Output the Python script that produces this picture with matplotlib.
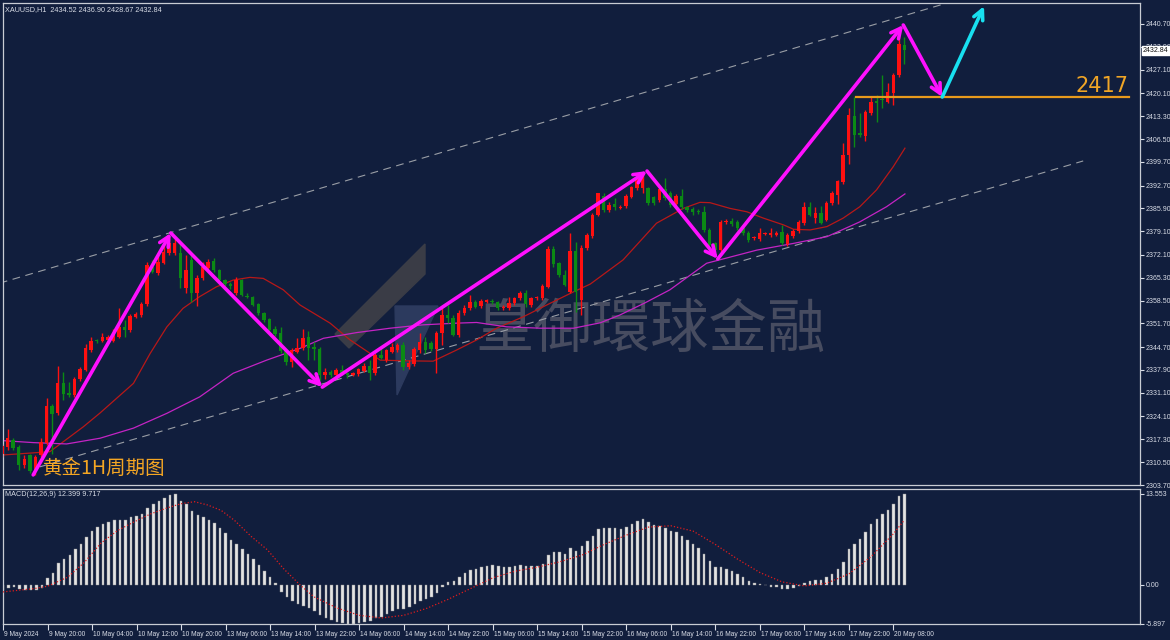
import matplotlib
matplotlib.use("Agg")
import matplotlib.pyplot as plt
import matplotlib.transforms as mtransforms
import numpy as np

plt.rcParams['font.family'] = ['Liberation Sans', 'DejaVu Sans', 'Noto Sans CJK SC']

# ---- candle data (XAUUSD H1), bar index 0..162 ----
opens = [2312.8, 2315.1, 2317.1, 2315.1, 2309.7, 2312.6, 2308.2, 2312.6, 2316.3, 2327.2,
         2325.0, 2334.0, 2331.0, 2330.3, 2335.1, 2337.9, 2343.8, 2346.6, 2346.5, 2346.8,
         2346.6, 2347.8, 2350.6, 2349.8, 2353.7, 2354.1, 2357.5, 2368.6, 2366.6, 2369.8,
         2372.5, 2372.5, 2372.5, 2362.2, 2370.6, 2360.9, 2365.1, 2368.1, 2370.4, 2367.6,
         2364.6, 2363.4, 2360.7, 2364.6, 2360.0, 2359.5, 2357.5, 2354.7, 2352.9, 2350.0,
         2348.8, 2343.6, 2340.4, 2343.3, 2344.3, 2347.8, 2344.8, 2344.1, 2336.4, 2337.4,
         2336.4, 2337.9, 2337.0, 2336.5, 2336.7, 2337.7, 2339.1, 2336.9, 2342.4, 2340.7,
         2343.3, 2343.8, 2345.3, 2338.7, 2339.7, 2343.8, 2346.3, 2346.0, 2344.0, 2348.8,
         2354.2, 2353.2, 2348.3, 2354.7, 2356.2, 2358.2, 2356.9, 2358.2, 2358.5, 2358.0,
         2356.2, 2356.2, 2357.7, 2359.2, 2360.9, 2357.2, 2359.2, 2359.2, 2362.6, 2373.7,
         2369.6, 2366.1, 2361.2, 2373.1, 2358.7, 2374.0, 2377.7, 2384.0, 2389.6, 2385.4,
         2387.2, 2386.1, 2386.6, 2389.4, 2391.9, 2391.9, 2391.9, 2389.2, 2388.4, 2391.6,
         2390.6, 2387.2, 2389.6, 2386.2, 2385.6, 2385.2, 2384.9, 2379.5, 2375.5, 2373.5,
         2381.8, 2382.2, 2381.9, 2380.0, 2378.7, 2377.0, 2376.7, 2378.3, 2378.0, 2378.1,
         2379.0, 2375.3, 2377.7, 2379.2, 2381.5, 2386.2, 2383.0, 2384.6, 2382.6, 2387.4,
         2389.9, 2393.6, 2401.8, 2413.5, 2408.3, 2407.4, 2414.2, 2417.8, 2418.3, 2417.6,
         2420.3, 2425.5, 2434.52]
highs = [2316.0, 2320.3, 2317.6, 2315.5, 2312.6, 2313.0, 2312.6, 2317.6, 2329.5, 2327.8,
         2339.1, 2337.4, 2334.4, 2335.9, 2338.8, 2345.5, 2347.8, 2347.0, 2348.8, 2348.3,
         2350.0, 2356.2, 2352.7, 2354.5, 2355.0, 2358.2, 2370.0, 2370.6, 2372.5, 2375.0,
         2377.5, 2376.7, 2376.0, 2372.0, 2372.0, 2366.0, 2370.0, 2371.0, 2371.3, 2368.0,
         2365.0, 2364.0, 2365.5, 2365.0, 2360.8, 2359.9, 2357.9, 2355.2, 2353.3, 2351.0,
         2350.8, 2344.0, 2344.5, 2347.3, 2350.0, 2349.6, 2346.3, 2344.6, 2338.4, 2337.9,
         2338.4, 2339.4, 2337.4, 2337.2, 2338.6, 2339.9, 2340.9, 2342.9, 2344.8, 2344.2,
         2345.8, 2345.8, 2346.3, 2340.9, 2344.6, 2348.8, 2347.8, 2346.5, 2349.5, 2356.2,
         2357.2, 2354.2, 2355.7, 2357.1, 2360.2, 2358.7, 2359.0, 2359.0, 2359.0, 2358.4,
         2357.2, 2359.5, 2359.7, 2361.4, 2361.7, 2359.7, 2360.0, 2363.4, 2374.7, 2374.7,
         2370.1, 2367.6, 2378.7, 2376.0, 2375.0, 2378.7, 2384.6, 2390.6, 2390.4, 2387.9,
         2388.9, 2386.8, 2390.1, 2392.7, 2395.9, 2396.8, 2392.4, 2389.7, 2391.9, 2394.8,
         2391.1, 2390.1, 2391.6, 2386.7, 2386.4, 2385.6, 2386.6, 2380.0, 2376.0, 2382.5,
         2382.8, 2383.0, 2382.4, 2380.5, 2379.2, 2377.7, 2380.0, 2379.0, 2380.0, 2379.1,
         2381.0, 2378.5, 2379.7, 2382.5, 2387.9, 2387.9, 2386.3, 2386.5, 2388.0, 2391.2,
         2394.4, 2405.4, 2415.6, 2419.1, 2414.2, 2415.0, 2419.1, 2419.6, 2425.5, 2423.2,
         2426.0, 2439.9, 2436.90]
lows = [2312.0, 2314.0, 2314.0, 2308.2, 2308.7, 2307.2, 2306.7, 2312.0, 2315.6, 2313.0,
        2324.5, 2329.0, 2330.0, 2329.8, 2334.6, 2337.5, 2343.3, 2346.0, 2346.2, 2346.3,
        2346.2, 2347.3, 2347.6, 2349.3, 2353.2, 2353.6, 2357.0, 2366.6, 2366.0, 2369.3,
        2372.0, 2372.0, 2362.2, 2360.7, 2358.2, 2356.9, 2364.5, 2367.6, 2367.0, 2364.0,
        2362.8, 2362.0, 2360.2, 2359.8, 2359.2, 2356.8, 2354.2, 2352.2, 2349.3, 2348.1,
        2342.8, 2339.4, 2338.9, 2342.8, 2343.8, 2340.9, 2340.9, 2334.9, 2335.1, 2335.9,
        2335.9, 2336.4, 2335.4, 2336.2, 2336.2, 2337.2, 2334.9, 2336.4, 2341.0, 2340.2,
        2342.8, 2343.3, 2337.9, 2338.2, 2339.2, 2342.8, 2342.8, 2343.6, 2337.0, 2345.3,
        2351.8, 2348.0, 2347.8, 2354.2, 2355.7, 2356.2, 2356.4, 2357.8, 2357.6, 2355.7,
        2355.8, 2355.7, 2357.2, 2358.7, 2356.7, 2356.7, 2358.7, 2358.7, 2362.1, 2368.6,
        2365.6, 2362.7, 2360.7, 2355.2, 2354.2, 2373.5, 2377.2, 2383.5, 2384.9, 2384.9,
        2385.4, 2385.8, 2386.1, 2388.9, 2391.4, 2390.4, 2386.9, 2386.9, 2387.9, 2388.4,
        2386.4, 2386.7, 2385.7, 2384.9, 2383.9, 2384.3, 2379.0, 2374.5, 2372.5, 2373.0,
        2381.3, 2380.8, 2379.5, 2378.0, 2376.0, 2376.5, 2376.2, 2377.9, 2377.5, 2377.6,
        2375.0, 2374.8, 2377.2, 2378.7, 2381.0, 2383.5, 2381.6, 2381.2, 2382.1, 2386.9,
        2387.2, 2393.1, 2399.1, 2404.2, 2407.2, 2406.0, 2413.6, 2411.7, 2415.6, 2417.1,
        2416.6, 2425.0, 2428.67]
closes = [2315.4, 2317.6, 2314.6, 2309.7, 2311.4, 2308.0, 2312.1, 2316.6, 2327.2, 2324.8,
          2334.0, 2330.8, 2330.3, 2335.3, 2338.2, 2344.5, 2346.6, 2346.4, 2347.8, 2347.8,
          2349.0, 2350.8, 2349.8, 2353.9, 2354.5, 2357.5, 2369.1, 2367.1, 2370.1, 2373.0,
          2375.5, 2375.7, 2365.1, 2367.6, 2360.9, 2365.1, 2368.6, 2370.1, 2367.6, 2364.6,
          2363.4, 2362.8, 2364.6, 2360.2, 2359.6, 2357.2, 2354.7, 2352.7, 2349.8, 2348.6,
          2343.6, 2340.4, 2343.8, 2344.5, 2347.5, 2344.3, 2344.1, 2336.4, 2337.4, 2336.4,
          2337.9, 2337.0, 2336.5, 2336.7, 2338.1, 2339.1, 2336.9, 2342.4, 2341.4, 2343.7,
          2344.8, 2345.3, 2338.7, 2339.9, 2344.1, 2346.3, 2343.8, 2344.1, 2349.0, 2354.2,
          2353.2, 2348.3, 2354.7, 2356.4, 2358.2, 2356.7, 2358.5, 2358.5, 2358.0, 2356.2,
          2356.7, 2357.7, 2359.2, 2360.9, 2357.4, 2359.2, 2359.5, 2362.9, 2373.7, 2369.4,
          2366.1, 2363.2, 2373.1, 2361.2, 2374.1, 2378.0, 2384.0, 2390.4, 2385.4, 2386.9,
          2386.4, 2386.3, 2389.6, 2392.2, 2395.3, 2395.5, 2387.6, 2387.4, 2391.6, 2388.9,
          2386.9, 2389.6, 2386.2, 2385.4, 2384.9, 2384.8, 2379.5, 2375.0, 2373.5, 2382.0,
          2382.3, 2381.3, 2380.0, 2378.5, 2376.5, 2377.2, 2378.7, 2378.6, 2378.7, 2378.6,
          2375.5, 2378.0, 2379.2, 2382.0, 2386.2, 2384.0, 2384.6, 2381.7, 2387.6, 2390.4,
          2393.9, 2401.8, 2413.6, 2407.7, 2407.7, 2414.6, 2417.6, 2417.3, 2418.1, 2420.6,
          2425.5, 2434.9, 2432.84]

# moving averages (bar index, price)
ma_red_x = [0, 8.6, 14.6, 17.6, 23.6, 26.6, 29.6, 32.5, 35.5, 38.5, 41.5, 44.5, 46.9, 50.5,
            53.5, 58.9, 62.5, 66.1, 67.9, 72.7, 77.4, 81.6, 85.2, 88.8, 93.6, 98.4, 102.6,
            105.6, 111.5, 117.5, 122.3, 125.3, 127.1, 130.7, 133.7, 136.7, 140.3, 142.1,
            145.1, 148.1, 151.0, 154.0, 157.0, 160.0, 162.1]
ma_red_y = [2312.6, 2313.6, 2321.0, 2325.1, 2333.9, 2342.8, 2350.7, 2356.2, 2359.7, 2362.6,
            2364.6, 2365.4, 2365.1, 2361.7, 2357.2, 2351.8, 2346.8, 2342.8, 2340.8, 2340.6,
            2340.5, 2343.8, 2346.8, 2350.3, 2353.7, 2357.7, 2361.1, 2363.4, 2370.6, 2381.5,
            2385.9, 2387.7, 2387.6, 2385.9, 2384.9, 2383.0, 2381.0, 2379.7, 2379.5, 2380.5,
            2383.0, 2386.4, 2391.4, 2398.3, 2403.8]
ma_mag_x = [0, 5.6, 11.6, 17.6, 23.6, 29.6, 35.5, 41.5, 47.5, 53.5, 57.7, 63.7, 69.7, 75.6,
            81.6, 85.2, 90.6, 96.6, 102.6, 107.4, 110.9, 115.4, 119.9, 126.5, 135.5, 142.1,
            148.1, 154.0, 158.8, 162.1]
ma_mag_y = [2316.9, 2316.3, 2315.9, 2317.6, 2320.6, 2325.0, 2329.9, 2336.9, 2340.8, 2344.3,
            2347.3, 2349.0, 2350.3, 2351.3, 2351.8, 2352.0, 2350.7, 2350.3, 2350.3, 2351.9,
            2354.2, 2357.8, 2361.7, 2369.6, 2373.5, 2375.5, 2377.5, 2381.9, 2386.4, 2390.2]

# MACD(12,26,9) histogram per bar and signal line (sparse)
macd = [-0.8, -0.5, -0.3, -0.6, -0.8, -0.8, -0.8, -0.5, 1.0, 1.8,
        3.2, 3.9, 4.4, 5.3, 6.1, 7.1, 8.0, 8.6, 9.1, 9.4,
        9.6, 9.7, 9.7, 10.1, 10.2, 10.5, 11.5, 12.0, 12.5, 13.0,
        13.4, 13.55, 12.5, 12.0, 11.0, 10.4, 10.1, 9.7, 9.2, 8.4,
        7.7, 6.6, 6.1, 5.3, 4.6, 3.8, 2.9, 2.0, 1.2, 0.2,
        -1.1, -1.8, -2.5, -2.9, -3.2, -3.5, -3.9, -4.6, -5.0, -5.3,
        -5.6, -5.8, -5.9, -5.9, -5.8, -5.6, -5.5, -5.0, -4.8, -4.4,
        -4.0, -3.6, -3.6, -3.4, -2.9, -2.4, -2.2, -1.9, -1.2, -0.3,
        0.4, 0.6, 1.2, 1.7, 2.2, 2.4, 2.6, 2.8, 2.9, 2.8,
        2.7, 2.7, 2.8, 3.0, 2.8, 2.8, 2.8, 3.1, 4.4, 4.8,
        4.8, 4.6, 5.4, 5.0, 5.8, 6.5, 7.3, 8.3, 8.4, 8.5,
        8.4, 8.3, 8.6, 9.0, 9.5, 9.8, 9.3, 8.9, 8.8, 8.5,
        8.0, 7.8, 7.2, 6.6, 6.0, 5.4, 4.6, 3.6, 2.7, 2.6,
        2.3, 2.0, 1.6, 1.1, 0.6, 0.3, 0.1, -0.1, -0.3, -0.4,
        -0.6, -0.6, -0.5, -0.2, 0.3, 0.5, 0.7, 0.7, 1.1, 1.6,
        2.3, 3.4, 5.3, 6.1, 6.8, 7.9, 9.0, 9.8, 10.5, 11.2,
        12.0, 13.3, 13.5]
signal_x = [0, 5.6, 8, 11.6, 14.6, 17.6, 20.6, 23.6, 26.6, 29.6, 32, 34.4, 36.8, 39.2, 41.6,
            44.6, 47.5, 50.5, 53.5, 55.9, 60, 64, 68, 72, 76, 80, 84, 88, 92, 96, 100, 104,
            108, 112, 116, 120, 124, 128, 132, 136, 140, 144, 148, 152, 156, 160, 162]
signal_y = [-1.1, -0.6, -0.25, 1.1, 3.3, 6.2, 8.1, 9.4, 10.6, 11.5, 12.1, 12.4, 11.9, 11.1,
            9.6, 7.2, 5.2, 2.3, -0.15, -1.85, -3.5, -4.6, -5.0, -4.6, -3.6, -2.2, -0.6, 1.0,
            2.0, 2.6, 3.4, 4.4, 6.0, 7.4, 8.6, 8.8, 8.0, 6.0, 3.8, 1.8, 0.4, -0.2, 0.2, 1.6,
            4.2, 7.6, 9.7]

time_labels = ['9 May 2024', '9 May 20:00', '10 May 04:00', '10 May 12:00', '10 May 20:00',
               '13 May 06:00', '13 May 14:00', '13 May 22:00', '14 May 06:00', '14 May 14:00',
               '14 May 22:00', '15 May 06:00', '15 May 14:00', '15 May 22:00', '16 May 06:00',
               '16 May 14:00', '16 May 22:00', '17 May 06:00', '17 May 14:00', '17 May 22:00',
               '20 May 08:00']
price_ticks = [2440.70, 2433.90, 2427.10, 2420.10, 2413.30, 2406.50, 2399.70, 2392.70,
               2385.90, 2379.10, 2372.10, 2365.30, 2358.50, 2351.70, 2344.70, 2337.90,
               2331.10, 2324.10, 2317.30, 2310.50, 2303.70]

# hand-drawn analysis: zigzag swing points (bar index, price)
zig_x = [5.6, 30.3, 57.5, 115.8, 128.5, 161.8, 168.8]
zig_y = [2306.7, 2378.6, 2332.8, 2397.0, 2370.9, 2440.4, 2419.0]
proj_x = [168.8, 176.3]
proj_y = [2419.0, 2446.0]
chan_up_x, chan_up_y = [-0.4, 170.2], [2363.7, 2447.2]
chan_lo_x, chan_lo_y = [6.8, 194.1], [2309.1, 2400.0]
level = 2419.1
level_x = [153.3, 202.3]

BG = '#111e3d'
FG = '#d8dce6'
UP = '#ff1010'
DN = '#0b8a14'

fig = plt.figure(figsize=(11.7, 6.4), dpi=100, facecolor=BG)
ax = fig.add_axes([3 / 1170, 1 - 485 / 640, 1137 / 1170, 482 / 640], facecolor=BG)
ax2 = fig.add_axes([3 / 1170, 1 - 624 / 640, 1137 / 1170, 135 / 640], facecolor=BG)

idx = np.arange(len(closes))
o = np.array(opens)
c = np.array(closes)
h = np.array(highs)
l = np.array(lows)
cols = np.where(c >= o, UP, DN)


def px(points):
    # screen-pixel sketch -> (bar, price)
    xs = [(p[0] - 2) / 5.57 for p in points]
    ys = [2440.7 - (p[1] - 24) / 3.365 for p in points]
    return xs, ys


# watermark
ax.text(85.0, 2349.8, '皇御環球金融', fontsize=42, color='#474c60', va='center', ha='left',
        family=['Noto Sans CJK TC', 'DejaVu Sans'], zorder=0)
xs, ys = px([(425, 244), (425, 274), (349, 348), (335, 334)])
ax.fill(xs, ys, color='#3a3c46', zorder=0)
xs, ys = px([(395, 306), (438, 306), (397, 395)])
ax.fill(xs, ys, color='#2c3a5e', zorder=0)

# channel
ax.plot(chan_up_x, chan_up_y, color='#9a9ea6', lw=0.8, ls=(0, (7, 5)), zorder=1)
ax.plot(chan_lo_x, chan_lo_y, color='#9a9ea6', lw=0.8, ls=(0, (7, 5)), zorder=1)

# moving averages
ax.plot(ma_red_x, ma_red_y, color='#b81818', lw=0.9, zorder=2)
ax.plot(ma_mag_x, ma_mag_y, color='#c424c4', lw=0.9, zorder=2)

# candles
ax.vlines(idx, l, h, colors=cols, lw=1, zorder=3)
body_lo = np.minimum(o, c)
body_h = np.maximum(np.abs(c - o), 0.35)
ax.bar(idx, body_h, bottom=body_lo, width=0.62, color=cols, lw=0, zorder=4)

# level 2417
ax.plot(level_x, [level, level], color='#e89a1c', lw=1.6, zorder=5)
ax.text(level_x[1], level + 0.3, '2417', color='#f0a526', fontsize=15, ha='right', va='bottom',
        family=['DejaVu Sans'], zorder=6)

# zigzag arrows
for k in range(len(zig_x) - 1):
    ax.annotate('', xy=(zig_x[k + 1], zig_y[k + 1]), xytext=(zig_x[k], zig_y[k]),
                arrowprops=dict(arrowstyle='->,head_length=0.7,head_width=0.35',
                                color='#ff10ff', lw=2.6, shrinkA=0, shrinkB=0), zorder=7)
ax.annotate('', xy=(proj_x[1], proj_y[1]), xytext=(proj_x[0], proj_y[0]),
            arrowprops=dict(arrowstyle='->,head_length=0.7,head_width=0.35',
                            color='#18e0f0', lw=2.6, shrinkA=0, shrinkB=0), zorder=7)

ax.text(7.4, 2308.5, '黄金1H周期图', color='#f5a623', fontsize=14, va='center', ha='left',
        family=['Noto Sans CJK SC', 'DejaVu Sans'], zorder=8)
ax.text(0.002, 0.994, 'XAUUSD,H1  2434.52 2436.90 2428.67 2432.84', transform=ax.transAxes,
        color=FG, fontsize=5.2, va='top', ha='left')

ax.set_xlim(0.18, 204.3)
ax.set_ylim(2303.7, 2446.94)
ax.yaxis.tick_right()
ax.set_yticks(price_ticks)
ax.set_yticklabels(['%.2f' % v for v in price_ticks])
ax.set_xticks([])
ax.tick_params(axis='y', colors=FG, labelsize=5, length=3, width=0.8, pad=1)

# current price box (covers the neighbouring 2433.90 label, as in the terminal)
tr = mtransforms.blended_transform_factory(ax.transAxes, ax.transData)
ax.text(1.0026, closes[-1], '%.2f' % closes[-1], transform=tr, fontsize=5, color='#101010',
        va='center', ha='left', zorder=10, clip_on=False,
        bbox=dict(boxstyle='square,pad=0.15', fc='white', ec='white'))

# MACD panel
ax2.bar(idx, macd, width=0.45, color='#e4e4e4', edgecolor='#8c8c8c', lw=0.3, zorder=2)
ax2.plot(signal_x, signal_y, color='#e01c1c', lw=0.9, ls=(0, (1, 1.6)), zorder=3)
ax2.text(0.002, 0.985, 'MACD(12,26,9) 12.399 9.717', transform=ax2.transAxes, color=FG,
         fontsize=5.2, va='top', ha='left')
ax2.set_xlim(0.18, 204.3)
ax2.set_ylim(-5.9, 14.3)
ax2.yaxis.tick_right()
ax2.set_yticks([13.553, 0.0, -5.897])
ax2.set_yticklabels(['13.553', '0.00', '-5.897'])
ax2.set_xticks(np.arange(0, 8 * len(time_labels), 8))
ax2.set_xticklabels(time_labels)
ax2.tick_params(axis='y', colors=FG, labelsize=5, length=3, width=0.8, pad=1)
ax2.tick_params(axis='x', colors=FG, labelsize=4.8, length=4, width=0.8, pad=1)
offset = mtransforms.ScaledTranslation(1 / 100, 0, fig.dpi_scale_trans)
for lab in ax2.get_xticklabels():
    lab.set_horizontalalignment('left')
    lab.set_transform(lab.get_transform() + offset)

for a in (ax, ax2):
    for s in a.spines.values():
        s.set_color('#c8ccd4')
        s.set_linewidth(0.9)

fig.savefig('out.png', dpi=100, facecolor=BG)
